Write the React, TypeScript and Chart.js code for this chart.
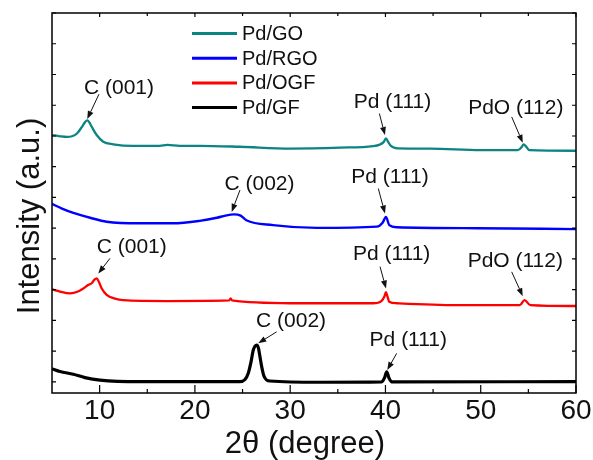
import React, { useEffect, useRef } from 'react';
import { Chart, registerables } from 'chart.js';

Chart.register(...registerables);

// ---- Data (2θ in degrees, intensity in arbitrary offset units) ----
const seriesLabels = ['Pd/GO', 'Pd/RGO', 'Pd/OGF', 'Pd/GF'];
const seriesColors = ['#0b8482', '#0000ff', '#ff0000', '#000000'];

const goX = [5.0, 5.84, 6.57, 7.10, 7.62, 8.15, 8.46, 8.70, 8.94, 9.17, 9.69, 10.38, 11.43, 13.5, 16.3, 17.1, 18.4, 20.5, 24.7, 30.0, 35.2, 38.7, 39.4, 39.8, 40.05, 40.3, 40.5, 41.3, 44.7, 50.0, 53.9, 54.3, 54.5, 54.8, 55.1, 60];
const goY = [8.03, 7.99, 7.97, 7.99, 8.08, 8.30, 8.45, 8.51, 8.43, 8.30, 8.03, 7.81, 7.73, 7.68, 7.68, 7.71, 7.68, 7.68, 7.65, 7.59, 7.62, 7.67, 7.72, 7.80, 7.92, 7.80, 7.70, 7.60, 7.59, 7.54, 7.54, 7.64, 7.73, 7.64, 7.54, 7.52];

const rgoX = [5.0, 6.05, 7.24, 9.0, 10.74, 14.24, 17.7, 20.5, 22.3, 23.2, 24.1, 24.8, 25.4, 28.2, 32.8, 39.1, 39.7, 40.05, 40.4, 41.2, 49.6, 60];
const rgoY = [5.79, 5.64, 5.50, 5.34, 5.21, 5.16, 5.16, 5.24, 5.34, 5.41, 5.45, 5.41, 5.26, 5.10, 5.01, 5.05, 5.18, 5.37, 5.10, 5.03, 5.00, 4.97];

const ogfX = [5.0, 5.84, 6.89, 7.73, 8.29, 8.78, 9.17, 9.46, 9.69, 9.93, 10.22, 10.74, 11.61, 12.48, 17.04, 23.6, 23.75, 23.9, 30.0, 38.7, 39.6, 39.9, 40.05, 40.2, 40.4, 41.2, 47.5, 54.1, 54.6, 55.2, 60];
const ogfY = [3.01, 2.94, 2.88, 2.94, 3.04, 3.15, 3.21, 3.33, 3.37, 3.25, 3.04, 2.83, 2.71, 2.66, 2.63, 2.65, 2.72, 2.65, 2.56, 2.56, 2.64, 2.79, 2.92, 2.79, 2.61, 2.56, 2.50, 2.50, 2.66, 2.50, 2.47];

const gfX = [5.0, 5.84, 7.24, 8.46, 10.04, 14.24, 21.24, 24.7, 25.26, 25.6, 25.89, 26.13, 26.49, 26.67, 26.83, 27.04, 27.25, 27.88, 33.1, 39.6, 39.9, 40.13, 40.37, 40.66, 60];
const gfY = [0.43, 0.34, 0.25, 0.14, 0.06, 0.01, 0.01, 0.01, 0.08, 0.28, 0.65, 1.04, 1.20, 1.10, 0.82, 0.45, 0.19, 0.03, -0.01, 0.00, 0.13, 0.33, 0.13, 0.00, 0.01];

const xTickValues = [10, 20, 30, 40, 50, 60];
const xMinorTickValues = [15, 25, 35, 45, 55];
const yTickValues = [0, 1, 2, 3, 4, 5, 6, 7, 8, 9, 10, 11, 12];

// Peak annotations (in data coordinates)
const annLabels = ['C (001)', 'C (002)', 'Pd (111)', 'PdO (112)', 'Pd (111)', 'C (001)', 'Pd (111)', 'PdO (112)', 'C (002)', 'Pd (111)'];
const annTextX = [12.03, 26.78, 40.74, 53.68, 40.48, 13.37, 40.65, 53.63, 30.09, 42.4];
const annTextY = [9.55, 6.42, 9.10, 8.90, 6.66, 4.37, 4.16, 3.93, 1.98, 1.36];
const annFromX = [9.93, 24.73, 39.36, 53.25, 39.25, 11.09, 39.43, 53.25, 28.58, 41.18];
const annFromY = [9.36, 6.24, 8.73, 8.62, 6.29, 4.02, 3.75, 3.58, 1.63, 0.93];
const annToX = [8.70, 23.86, 39.95, 54.41, 39.95, 9.86, 40.06, 54.41, 26.65, 40.19];
const annToY = [8.55, 5.53, 8.03, 7.78, 5.48, 3.53, 3.04, 2.79, 1.26, 0.39];

const xTitle = '2θ (degree)';
const yTitle = 'Intensity (a.u.)';

const FONT = '"Liberation Sans", Arial, Helvetica, sans-serif';
const TEXT = '#111111';

const toPoints = (xs: number[], ys: number[]) => xs.map((x, i) => ({ x, y: ys[i] }));

const decor = {
  id: 'decor',
  afterDatasetsDraw(chart: any) {
    const { ctx, chartArea: a, scales } = chart;
    const x = scales.x;
    const y = scales.y;
    ctx.save();

    // frame
    ctx.strokeStyle = '#000';
    ctx.lineWidth = 1.5;
    ctx.strokeRect(a.left, a.top, a.right - a.left, a.bottom - a.top);

    // inward ticks
    ctx.lineWidth = 1.2;
    ctx.beginPath();
    for (const v of xTickValues) {
      const px = x.getPixelForValue(v);
      ctx.moveTo(px, a.bottom); ctx.lineTo(px, a.bottom - 8);
      ctx.moveTo(px, a.top); ctx.lineTo(px, a.top + 4);
    }
    for (const v of xMinorTickValues) {
      const px = x.getPixelForValue(v);
      ctx.moveTo(px, a.bottom); ctx.lineTo(px, a.bottom - 4);
      ctx.moveTo(px, a.top); ctx.lineTo(px, a.top + 3);
    }
    for (const v of yTickValues) {
      const py = y.getPixelForValue(v);
      ctx.moveTo(a.left, py); ctx.lineTo(a.left + 4, py);
      ctx.moveTo(a.right, py); ctx.lineTo(a.right - 4, py);
    }
    ctx.stroke();

    // annotations
    ctx.font = `21px ${FONT}`;
    ctx.fillStyle = TEXT;
    ctx.textAlign = 'center';
    ctx.textBaseline = 'middle';
    annLabels.forEach((lab, i) => {
      ctx.fillText(lab, x.getPixelForValue(annTextX[i]), y.getPixelForValue(annTextY[i]));
      const x1 = x.getPixelForValue(annFromX[i]);
      const y1 = y.getPixelForValue(annFromY[i]);
      const x2 = x.getPixelForValue(annToX[i]);
      const y2 = y.getPixelForValue(annToY[i]);
      const ang = Math.atan2(y2 - y1, x2 - x1);
      const L = 8, W = 3;
      const bx = x2 - L * Math.cos(ang);
      const by = y2 - L * Math.sin(ang);
      ctx.strokeStyle = TEXT;
      ctx.lineWidth = 1;
      ctx.beginPath();
      ctx.moveTo(x1, y1);
      ctx.lineTo(bx, by);
      ctx.stroke();
      ctx.beginPath();
      ctx.moveTo(x2, y2);
      ctx.lineTo(bx + W * Math.sin(ang), by - W * Math.cos(ang));
      ctx.lineTo(bx - W * Math.sin(ang), by + W * Math.cos(ang));
      ctx.closePath();
      ctx.fill();
    });

    // legend
    ctx.font = `20px ${FONT}`;
    ctx.textAlign = 'left';
    chart.data.datasets.forEach((ds: any, i: number) => {
      const ly = a.top + 20.5 + i * 24.7;
      ctx.strokeStyle = ds.borderColor;
      ctx.lineWidth = 3;
      ctx.beginPath();
      ctx.moveTo(a.left + 140, ly);
      ctx.lineTo(a.left + 185, ly);
      ctx.stroke();
      ctx.fillStyle = TEXT;
      ctx.fillText(ds.label, a.left + 190, ly + 1);
    });

    // axis titles
    ctx.fillStyle = TEXT;
    ctx.font = `31px ${FONT}`;
    ctx.textAlign = 'center';
    ctx.textBaseline = 'middle';
    ctx.fillText(xTitle, a.left + 253, a.bottom + 51);
    ctx.save();
    ctx.translate(30, a.top + 203);
    ctx.rotate(-Math.PI / 2);
    ctx.fillText(yTitle, 0, 0);
    ctx.restore();

    ctx.restore();
  },
};

export default function App() {
  const ref = useRef<HTMLCanvasElement>(null);
  useEffect(() => {
    document.body.style.margin = '0';
    const allX = [goX, rgoX, ogfX, gfX];
    const allY = [goY, rgoY, ogfY, gfY];
    const widths = [2.3, 2.4, 2.3, 3.2];
    const chart = new Chart(ref.current as HTMLCanvasElement, {
      type: 'line',
      data: {
        datasets: seriesLabels.map((label, i) => ({
          label,
          data: toPoints(allX[i], allY[i]),
          borderColor: seriesColors[i],
          backgroundColor: seriesColors[i],
          borderWidth: widths[i],
          pointRadius: 0,
          fill: false,
          cubicInterpolationMode: 'monotone' as const,
        })),
      },
      options: {
        animation: false,
        responsive: false,
        devicePixelRatio: 1,
        layout: { padding: { left: 52, right: 17, top: 13, bottom: 0 } },
        plugins: { legend: { display: false }, tooltip: { enabled: false }, title: { display: false } },
        scales: {
          x: {
            type: 'linear',
            min: 5,
            max: 60,
            grid: { display: false, drawTicks: false },
            border: { display: false },
            ticks: {
              color: TEXT,
              padding: 1,
              font: { family: FONT, size: 28, lineHeight: 1.2 },
              maxRotation: 0,
              autoSkip: false,
            },
            afterBuildTicks: (s: any) => {
              s.ticks = xTickValues.map((v) => ({ value: v }));
            },
            afterFit: (s: any) => {
              s.height = 67;
            },
          },
          y: { type: 'linear', display: false, min: -0.36, max: 12 },
        },
      } as any,
      plugins: [decor],
    });
    return () => chart.destroy();
  }, []);
  return <canvas ref={ref} width={593} height={460} style={{ display: 'block' }} />;
}
